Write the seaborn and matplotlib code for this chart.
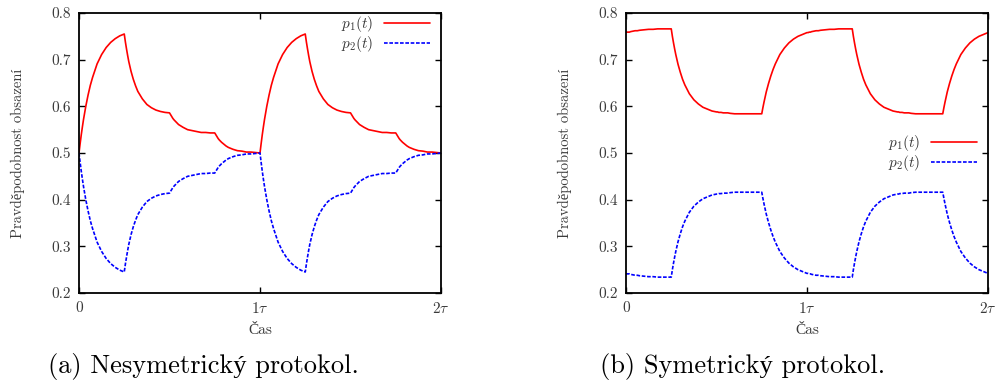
import matplotlib
matplotlib.use("Agg")
import matplotlib.pyplot as plt
import seaborn as sns
import pandas as pd

# ---------------- data ----------------
t = [0.0, 0.00625, 0.0125, 0.01875, 0.025, 0.0375, 0.05, 0.0625, 0.075, 0.1, 0.125, 0.15, 0.175, 0.2, 0.225,
     0.25, 0.25625, 0.2625, 0.26875, 0.275, 0.2875, 0.3, 0.3125, 0.325, 0.35, 0.375, 0.4, 0.425, 0.45, 0.475,
     0.5, 0.50625, 0.5125, 0.51875, 0.525, 0.5375, 0.55, 0.5625, 0.575, 0.6, 0.625, 0.65, 0.675, 0.7, 0.725,
     0.75, 0.75625, 0.7625, 0.76875, 0.775, 0.7875, 0.8, 0.8125, 0.825, 0.85, 0.875, 0.9, 0.925, 0.95, 0.975,
     1.0, 1.00625, 1.0125, 1.01875, 1.025, 1.0375, 1.05, 1.0625, 1.075, 1.1, 1.125, 1.15, 1.175, 1.2, 1.225,
     1.25, 1.25625, 1.2625, 1.26875, 1.275, 1.2875, 1.3, 1.3125, 1.325, 1.35, 1.375, 1.4, 1.425, 1.45, 1.475,
     1.5, 1.50625, 1.5125, 1.51875, 1.525, 1.5375, 1.55, 1.5625, 1.575, 1.6, 1.625, 1.65, 1.675, 1.7, 1.725,
     1.75, 1.75625, 1.7625, 1.76875, 1.775, 1.7875, 1.8, 1.8125, 1.825, 1.85, 1.875, 1.9, 1.925, 1.95, 1.975,
     2.0]

# (a) asymmetric protocol
a_p1 = [0.500, 0.520, 0.539, 0.556, 0.572, 0.600, 0.624, 0.645, 0.662, 0.691, 0.711, 0.726, 0.737, 0.745, 0.751,
        0.755, 0.738, 0.723, 0.709, 0.696, 0.675, 0.658, 0.644, 0.632, 0.616, 0.604, 0.597, 0.592, 0.589, 0.587,
        0.586, 0.582, 0.578, 0.574, 0.571, 0.566, 0.561, 0.558, 0.555, 0.550, 0.548, 0.546, 0.544, 0.544, 0.543,
        0.543, 0.539, 0.535, 0.531, 0.528, 0.523, 0.519, 0.515, 0.512, 0.508, 0.505, 0.504, 0.502, 0.502, 0.501,
        0.500, 0.520, 0.539, 0.556, 0.572, 0.600, 0.624, 0.645, 0.662, 0.691, 0.711, 0.726, 0.737, 0.745, 0.751,
        0.755, 0.738, 0.723, 0.709, 0.696, 0.675, 0.658, 0.644, 0.632, 0.616, 0.604, 0.597, 0.592, 0.589, 0.587,
        0.586, 0.582, 0.578, 0.574, 0.571, 0.566, 0.561, 0.558, 0.555, 0.550, 0.548, 0.546, 0.544, 0.544, 0.543,
        0.543, 0.539, 0.535, 0.531, 0.528, 0.523, 0.519, 0.515, 0.512, 0.508, 0.505, 0.504, 0.502, 0.502, 0.501,
        0.500]
a_p2 = [0.500, 0.480, 0.461, 0.444, 0.428, 0.400, 0.376, 0.355, 0.338, 0.309, 0.289, 0.274, 0.263, 0.255, 0.249,
        0.245, 0.262, 0.277, 0.291, 0.304, 0.325, 0.342, 0.356, 0.368, 0.384, 0.396, 0.403, 0.408, 0.411, 0.413,
        0.414, 0.418, 0.422, 0.426, 0.429, 0.434, 0.439, 0.442, 0.445, 0.450, 0.452, 0.454, 0.456, 0.456, 0.457,
        0.457, 0.461, 0.465, 0.469, 0.472, 0.477, 0.481, 0.485, 0.488, 0.492, 0.495, 0.496, 0.498, 0.498, 0.499,
        0.500, 0.480, 0.461, 0.444, 0.428, 0.400, 0.376, 0.355, 0.338, 0.309, 0.289, 0.274, 0.263, 0.255, 0.249,
        0.245, 0.262, 0.277, 0.291, 0.304, 0.325, 0.342, 0.356, 0.368, 0.384, 0.396, 0.403, 0.408, 0.411, 0.413,
        0.414, 0.418, 0.422, 0.426, 0.429, 0.434, 0.439, 0.442, 0.445, 0.450, 0.452, 0.454, 0.456, 0.456, 0.457,
        0.457, 0.461, 0.465, 0.469, 0.472, 0.477, 0.481, 0.485, 0.488, 0.492, 0.495, 0.496, 0.498, 0.498, 0.499,
        0.500]

# (b) symmetric protocol
b_p1 = [0.759, 0.759, 0.759, 0.759, 0.760, 0.761, 0.762, 0.762, 0.763, 0.764, 0.765, 0.765, 0.766, 0.766, 0.766,
        0.766, 0.750, 0.736, 0.723, 0.711, 0.690, 0.673, 0.658, 0.646, 0.627, 0.614, 0.605, 0.598, 0.594, 0.590,
        0.588, 0.588, 0.587, 0.587, 0.587, 0.586, 0.586, 0.586, 0.585, 0.584, 0.584, 0.584, 0.584, 0.584, 0.584,
        0.584, 0.597, 0.609, 0.620, 0.631, 0.649, 0.665, 0.679, 0.691, 0.711, 0.725, 0.736, 0.744, 0.750, 0.754,
        0.758, 0.758, 0.759, 0.759, 0.760, 0.761, 0.762, 0.762, 0.763, 0.764, 0.765, 0.765, 0.766, 0.766, 0.766,
        0.766, 0.750, 0.736, 0.723, 0.711, 0.690, 0.673, 0.658, 0.646, 0.627, 0.614, 0.605, 0.598, 0.594, 0.590,
        0.588, 0.588, 0.587, 0.587, 0.587, 0.586, 0.586, 0.586, 0.585, 0.584, 0.584, 0.584, 0.584, 0.584, 0.584,
        0.584, 0.597, 0.609, 0.620, 0.631, 0.649, 0.665, 0.679, 0.691, 0.711, 0.725, 0.736, 0.744, 0.750, 0.754,
        0.758]
b_p2 = [0.241, 0.241, 0.241, 0.241, 0.240, 0.239, 0.238, 0.238, 0.237, 0.236, 0.235, 0.235, 0.234, 0.234, 0.234,
        0.234, 0.250, 0.264, 0.277, 0.289, 0.310, 0.327, 0.342, 0.354, 0.373, 0.386, 0.395, 0.402, 0.406, 0.410,
        0.412, 0.412, 0.413, 0.413, 0.413, 0.414, 0.414, 0.414, 0.415, 0.416, 0.416, 0.416, 0.416, 0.416, 0.416,
        0.416, 0.403, 0.391, 0.380, 0.369, 0.351, 0.335, 0.321, 0.309, 0.289, 0.275, 0.264, 0.256, 0.250, 0.246,
        0.242, 0.242, 0.241, 0.241, 0.240, 0.239, 0.238, 0.238, 0.237, 0.236, 0.235, 0.235, 0.234, 0.234, 0.234,
        0.234, 0.250, 0.264, 0.277, 0.289, 0.310, 0.327, 0.342, 0.354, 0.373, 0.386, 0.395, 0.402, 0.406, 0.410,
        0.412, 0.412, 0.413, 0.413, 0.413, 0.414, 0.414, 0.414, 0.415, 0.416, 0.416, 0.416, 0.416, 0.416, 0.416,
        0.416, 0.403, 0.391, 0.380, 0.369, 0.351, 0.335, 0.321, 0.309, 0.289, 0.275, 0.264, 0.256, 0.250, 0.246,
        0.242]

series_labels = [r"$p_1(t)$", r"$p_2(t)$"]
x_ticks = [0, 1, 2]
x_tick_labels = ["0", r"$1\tau$", r"$2\tau$"]
y_ticks = [0.2, 0.3, 0.4, 0.5, 0.6, 0.7, 0.8]
x_label = "Čas"
y_label = "Pravděpodobnost obsazení"
captions = ["(a) Nesymetrický protokol.", "(b) Symetrický protokol."]

# ---------------- style ----------------
sns.set_style("ticks")
# Computer Modern look; accented letters fall back to Liberation Serif
plt.rcParams["font.family"] = ["cmr10", "Liberation Serif"]
plt.rcParams["mathtext.fontset"] = "cm"
plt.rcParams["axes.unicode_minus"] = False

fig = plt.figure(figsize=(9.98, 3.85), dpi=100)
W, H = 998, 385
ax_a = fig.add_axes([79 / W, (H - 293) / H, 362 / W, 280 / H])
ax_b = fig.add_axes([626 / W, (H - 293) / H, 362 / W, 280 / H])

text_col = "#3a3a3a"
colors = ["#ff0000", "#0000ff"]


def draw(ax, p1, p2, legend_loc, legend_anchor, caption, cap_x):
    df = pd.DataFrame({"t": t * 2, "p": p1 + p2,
                       "s": [series_labels[0]] * len(t) + [series_labels[1]] * len(t)})
    sns.lineplot(data=df, x="t", y="p", hue="s", style="s",
                 palette=colors, dashes=[(None, None), (2.2, 1.0)],
                 linewidth=1.2, ax=ax, legend=True, estimator=None, sort=False)
    ax.set_xlim(0, 2)
    ax.set_ylim(0.2, 0.8)
    ax.set_xticks(x_ticks)
    ax.set_xticklabels(x_tick_labels)
    ax.set_yticks(y_ticks)
    ax.set_yticklabels([f"{v:.1f}" for v in y_ticks])
    ax.tick_params(direction="in", length=4, width=1.0, top=True, right=True,
                   labelsize=11, colors="black", labelcolor=text_col, pad=6)
    for sp in ax.spines.values():
        sp.set_linewidth(1.3)
        sp.set_color("black")
    ax.set_xlabel(x_label, fontsize=11, color=text_col, labelpad=5)
    ax.set_ylabel(y_label, fontsize=10.5, color=text_col)
    ax.yaxis.set_label_coords(-0.15, 0.5)
    leg = ax.legend(loc=legend_loc, bbox_to_anchor=legend_anchor, frameon=False,
                    markerfirst=False, fontsize=11, handlelength=3.0,
                    handletextpad=0.7, labelspacing=0.0, borderaxespad=0.3)
    for txt in leg.get_texts():
        txt.set_color(text_col)
    fig.text(cap_x / W, 1 - 366 / H, caption, fontsize=19, ha="left",
             va="center", color="black")


draw(ax_a, a_p1, a_p2, "upper right", (1.0, 1.035), captions[0], 48)
draw(ax_b, b_p1, b_p2, "center right", (1.0, 0.5), captions[1], 600)

fig.savefig("out.png", dpi=100)
